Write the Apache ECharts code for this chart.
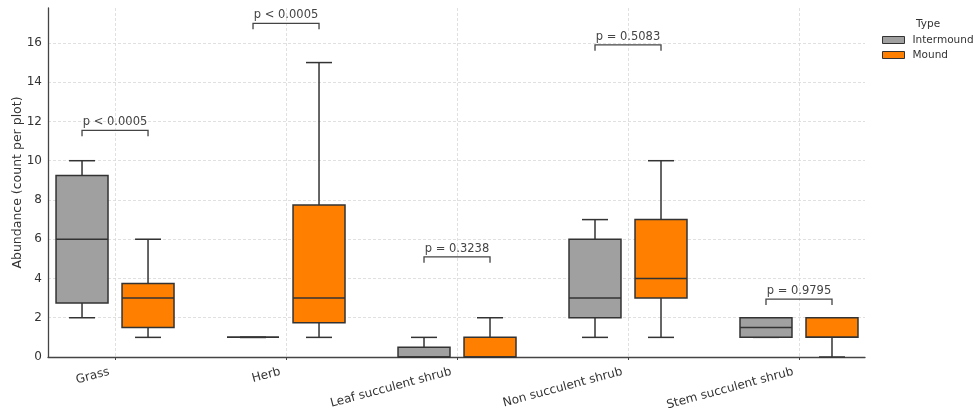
<!DOCTYPE html>
<html>
<head>
<meta charset="utf-8">
<script src="https://cdn.jsdelivr.net/npm/echarts@6/dist/echarts.min.js"></script>
<style>html,body{margin:0;padding:0;background:#fff;}#c{width:973px;height:420px;}</style>
</head>
<body>
<div id="c"></div>
<script>
// Categories
const categories = ['Grass', 'Herb', 'Leaf succulent shrub', 'Non succulent shrub', 'Stem succulent shrub'];
const yTicks = [0, 2, 4, 6, 8, 10, 12, 14, 16];
// [min, q1, median, q3, max] per category
const intermound = [
  [2, 2.75, 6, 9.25, 10],
  [1, 1, 1, 1, 1],
  [0, 0, 0, 0.5, 1],
  [1, 2, 3, 6, 7],
  [1, 1, 1.5, 2, 2]
];
const mound = [
  [1, 1.5, 3, 3.75, 6],
  [1, 1.75, 3, 7.75, 15],
  [0, 0, 0, 1, 2],
  [1, 3, 4, 7, 10],
  [0, 1, 1, 2, 2]
];
// significance brackets
const pLabels = ['p < 0.0005', 'p < 0.0005', 'p = 0.3238', 'p = 0.5083', 'p = 0.9795'];
const bracketHeights = [11.55, 17.0, 5.1, 15.9, 2.95];

const FONT = 'DejaVu Sans';
const OFFSET = 0.193, HALFW = 0.152;

function boxRenderer(sign, fill) {
  return function (params, api) {
    const cat = api.value(0);
    const unit = api.size([1, 0])[0];
    const cx = api.coord([cat, 0])[0] + sign * unit * OFFSET;
    const hw = unit * HALFW, cw = hw / 2;
    const y = i => api.coord([cat, api.value(i)])[1];
    const yMin = y(1), yQ1 = y(2), yMed = y(3), yQ3 = y(4), yMax = y(5);
    const ls = { stroke: '#333', lineWidth: 1.5 };
    return {
      type: 'group', children: [
        { type: 'line', shape: { x1: cx, y1: yQ3, x2: cx, y2: yMax }, style: ls },
        { type: 'line', shape: { x1: cx, y1: yQ1, x2: cx, y2: yMin }, style: ls },
        { type: 'line', shape: { x1: cx - cw, y1: yMax, x2: cx + cw, y2: yMax }, style: ls },
        { type: 'line', shape: { x1: cx - cw, y1: yMin, x2: cx + cw, y2: yMin }, style: ls },
        { type: 'rect', shape: { x: cx - hw, y: yQ3, width: 2 * hw, height: yQ1 - yQ3 }, style: { fill: fill, stroke: '#333', lineWidth: 1.5 } },
        { type: 'line', shape: { x1: cx - hw, y1: yMed, x2: cx + hw, y2: yMed }, style: ls }
      ]
    };
  };
}

function bracketRenderer(params, api) {
  const cat = api.value(0);
  const h = api.value(1);
  const unit = api.size([1, 0])[0];
  const c = api.coord([cat, h]);
  const yLeg = api.coord([cat, h - 0.3])[1];
  const x1 = c[0] - unit * OFFSET, x2 = c[0] + unit * OFFSET;
  return {
    type: 'group', children: [
      { type: 'polyline', shape: { points: [[x1, yLeg], [x1, c[1]], [x2, c[1]], [x2, yLeg]] }, style: { stroke: '#444', lineWidth: 1.3, fill: null } },
      { type: 'text', style: { x: c[0], y: c[1] - 8, text: pLabels[params.dataIndex], textAlign: 'center', textVerticalAlign: 'middle', fontSize: 11.5, fontFamily: FONT, fill: '#444' } }
    ]
  };
}

const catIdx = categories.map((_, i) => i);
const chart = echarts.init(document.getElementById('c'), null, { renderer: 'canvas' });
chart.setOption({
  animation: false,
  backgroundColor: '#fff',
  textStyle: { fontFamily: FONT },
  title: { text: 'Type', left: 911, top: 13, padding: 5, textStyle: { fontSize: 10.5, lineHeight: 12, fontWeight: 'normal', color: '#333', fontFamily: FONT } },
  legend: {
    orient: 'vertical', left: 877, top: 29, itemWidth: 22, itemHeight: 7, itemGap: 3,
    data: [
      { name: 'Intermound', icon: 'rect', itemStyle: { color: '#a0a0a0', borderColor: '#333', borderWidth: 1 } },
      { name: 'Mound', icon: 'rect', itemStyle: { color: '#ff8000', borderColor: '#333', borderWidth: 1 } }
    ],
    textStyle: { fontSize: 10.5, lineHeight: 12, color: '#333', fontFamily: FONT, padding: [0, 0, 0, 3] }
  },
  grid: { left: 48, right: 108, top: 8, bottom: 63, outerBoundsMode: 'none', containLabel: false },
  xAxis: {
    type: 'value', min: -0.392, max: 4.386,
    axisLine: { show: true, onZero: false, lineStyle: { color: '#444', width: 1.3 } },
    axisTick: { show: true, length: 3, customValues: catIdx, lineStyle: { color: '#444' } },
    axisLabel: { customValues: catIdx, rotate: 15, margin: 13, padding: [0, 6, 0, 0], fontSize: 12, color: '#333', fontFamily: FONT, formatter: v => categories[Math.round(v)] },
    splitLine: { show: true, lineStyle: { color: '#d8d8d8', type: [3, 2], width: 0.8 } }
  },
  yAxis: {
    type: 'value', min: 0, max: 17.78,
    name: 'Abundance (count per plot)', nameLocation: 'middle', nameGap: 24, nameMoveOverlap: false,
    nameTextStyle: { fontSize: 12.5, color: '#333', fontFamily: FONT },
    axisLine: { show: true, onZero: false, lineStyle: { color: '#444', width: 1.3 } },
    axisTick: { show: false, customValues: yTicks },
    axisLabel: { customValues: yTicks, fontSize: 12, color: '#333', margin: 6, fontFamily: FONT },
    splitLine: { show: true, lineStyle: { color: '#d8d8d8', type: [3, 2], width: 0.8 } }
  },
  series: [
    {
      name: 'Intermound', type: 'custom', renderItem: boxRenderer(-1, '#a0a0a0'),
      itemStyle: { color: '#a0a0a0', borderColor: '#333' },
      encode: { x: 0, y: [1, 2, 3, 4, 5] }, clip: false, z: 3,
      data: intermound.map((d, i) => [i].concat(d))
    },
    {
      name: 'Mound', type: 'custom', renderItem: boxRenderer(1, '#ff8000'),
      itemStyle: { color: '#ff8000', borderColor: '#333' },
      encode: { x: 0, y: [1, 2, 3, 4, 5] }, clip: false, z: 3,
      data: mound.map((d, i) => [i].concat(d))
    },
    {
      name: 'brackets', type: 'custom', renderItem: bracketRenderer,
      encode: { x: 0, y: 1 }, clip: false, z: 4,
      data: bracketHeights.map((h, i) => [i, h])
    }
  ]
});
</script>
</body>
</html>
